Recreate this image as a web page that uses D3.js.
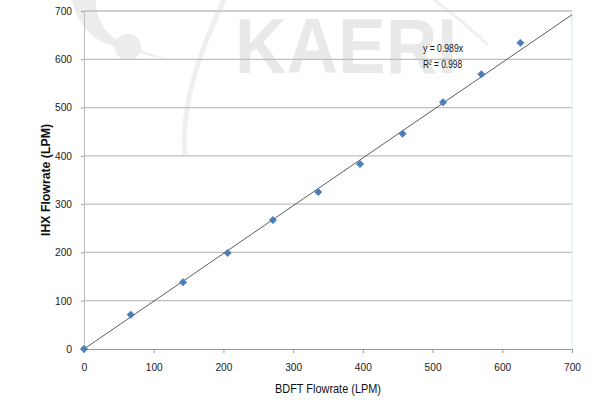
<!DOCTYPE html>
<html><head><meta charset="utf-8">
<script src="https://cdn.jsdelivr.net/npm/d3@7"></script>
<style>
body{margin:0;background:#fff;}
svg{display:block;}
text{font-family:"Liberation Sans",Arial,sans-serif;}
</style></head>
<body>
<svg id="chart" width="613" height="403"></svg>
<script>
const bdft = [0, 67, 142, 206, 271, 336, 396, 457, 515, 570, 626];
const ihx  = [0, 71, 138, 199, 267, 325, 383, 446, 511, 569, 634];
const slope = 0.989;
const xTicks = [0,100,200,300,400,500,600,700];
const yTicks = [0,100,200,300,400,500,600,700];
const eqLines = ["y = 0.989x", "R² = 0.998"];
const xTitle = "BDFT Flowrate (LPM)";
const yTitle = "IHX Flowrate (LPM)";

const svg = d3.select("#chart");
const L = 84, R = 572, T = 11, B = 349;
const x = d3.scaleLinear().domain([0,700]).range([L,R]);
const y = d3.scaleLinear().domain([0,700]).range([B,T]);

// watermark (logo)
const wm = svg.append("g");
wm.append("path").attr("d","M72,0 C78,30 100,45 122,48 C140,52 155,58 170,60 C150,54 138,50 122,42 C105,35 95,18 96,0 Z").attr("fill","#ececec");
wm.append("circle").attr("cx",128).attr("cy",47).attr("r",13).attr("fill","#ececec");
wm.append("path").attr("d","M224,0 C205,40 180,100 185,155").attr("fill","none").attr("stroke","#efefef").attr("stroke-width",5);
wm.append("path").attr("d","M434,0 C455,15 472,30 488,45").attr("fill","none").attr("stroke","#f0f0f0").attr("stroke-width",3);
wm.append("text").attr("x",235).attr("y",73)
  .attr("font-weight","bold").attr("font-size",78).attr("fill","#e9e9e9")
  .attr("textLength",222).attr("lengthAdjust","spacingAndGlyphs").text("KAERI");

// gridlines
svg.append("g").selectAll("line").data(yTicks.filter(d=>d>0)).join("line")
  .attr("x1",L).attr("x2",R).attr("y1",d=>y(d)).attr("y2",d=>y(d))
  .attr("stroke","#bfbfbf").attr("stroke-width",1.3);
// right border
svg.append("line").attr("x1",R).attr("x2",R).attr("y1",T).attr("y2",B).attr("stroke","#d6ebeb").attr("stroke-width",1);

// x axis
const xa = svg.append("g").attr("transform",`translate(0,${B})`)
  .call(d3.axisBottom(x).tickValues(xTicks).tickSize(4).tickPadding(11));
xa.select(".domain").attr("stroke","#9a9a9a");
xa.selectAll(".tick line").attr("stroke","#9a9a9a");
xa.selectAll("text").attr("font-size",10.5).attr("fill","#222")
  .attr("textLength",17).attr("lengthAdjust","spacingAndGlyphs");
xa.selectAll(".tick text").filter(d=>d===0).attr("textLength",null);

// y axis
const ya = svg.append("g").attr("transform",`translate(${L},0)`)
  .call(d3.axisLeft(y).tickValues(yTicks).tickSize(3).tickPadding(9));
ya.select(".domain").attr("stroke","#bfbfbf");
ya.selectAll(".tick line").attr("stroke","#9a9a9a");
ya.selectAll("text").attr("font-size",10.5).attr("fill","#222")
  .attr("textLength",d=>d===0?null:17).attr("lengthAdjust","spacingAndGlyphs");

// trend line
svg.append("line").attr("x1",x(0)).attr("y1",y(0)).attr("x2",x(700)).attr("y2",y(700*slope))
  .attr("stroke","#333").attr("stroke-width",0.8);

// points
const sym = d3.symbol().type(d3.symbolSquare).size(28);
svg.append("g").selectAll("path").data(bdft.map((v,i)=>[v,ihx[i]])).join("path")
  .attr("d",sym).attr("transform",d=>`translate(${x(d[0])},${y(d[1])}) rotate(45)`)
  .attr("fill","#4a7ebb").attr("stroke","#4a7ebb").attr("stroke-width",0.5);

// equation
svg.append("g").selectAll("text").data(eqLines).join("text")
  .attr("x",423).attr("y",(d,i)=>52+i*16).attr("font-size",11).attr("fill","#111")
  .attr("textLength",(d,i)=>i===0?40:39).attr("lengthAdjust","spacingAndGlyphs").text(d=>d);

// titles
svg.append("text").attr("x",(L+R)/2).attr("y",393).attr("text-anchor","middle")
  .attr("font-size",12).attr("fill","#111")
  .attr("textLength",106).attr("lengthAdjust","spacingAndGlyphs").text(xTitle);
svg.append("text").attr("transform",`translate(50,${(T+B)/2}) rotate(-90)`).attr("text-anchor","middle")
  .attr("font-size",12).attr("font-weight","bold").attr("fill","#111")
  .attr("textLength",112).attr("lengthAdjust","spacingAndGlyphs").text(yTitle);
</script>
</body></html>
